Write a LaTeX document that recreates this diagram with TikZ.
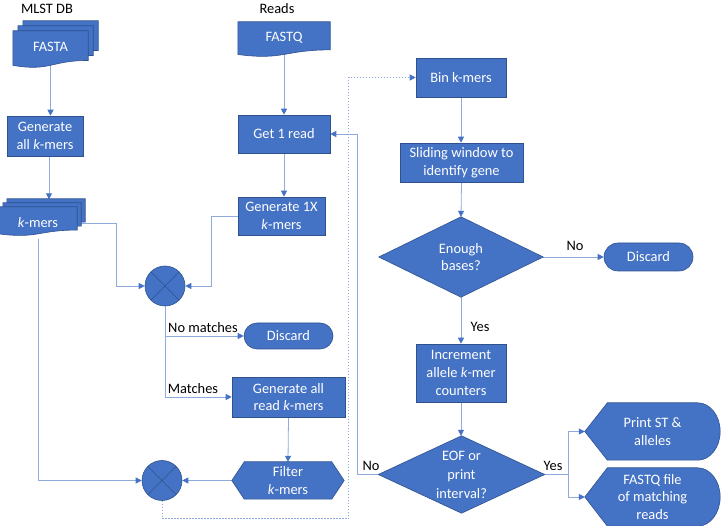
\documentclass[tikz,border=0pt]{standalone}
\usepackage{fontspec}
\setmainfont{Carlito}
\usetikzlibrary{arrows.meta,calc}
\definecolor{blu}{RGB}{68,114,196}
\definecolor{bdr}{RGB}{47,82,143}
\definecolor{lnc}{RGB}{143,170,220}
\definecolor{tipc}{RGB}{68,114,196}
\pgfdeclarelayer{conn}
\pgfdeclarelayer{shp}
\pgfsetlayers{conn,shp,main}
\newcommand\nf{\fontsize{14.4}{17.5}\selectfont}
% document shape: node name, xshift, yshift (canvas pt), height
\newcommand\docshape[4]{\filldraw[shpstyle] let \p1=([shift={(#2pt,#3pt)}]#1.north west), \p2=([shift={(#2pt,#3pt)}]#1.north east), \n1={\x2-\x1} in
 (\x1,\y1) -- (\x2,\y1) -- (\x2,{\y1-0.802*#4pt}) .. controls ({\x1+0.5*\n1},{\y1-0.802*#4pt}) and ({\x1+0.5*\n1},{\y1-1.1075*#4pt}) .. (\x1,{\y1-0.934*#4pt}) -- cycle;}
% display shape
\newcommand\dispshape[1]{\filldraw[shpstyle] let \p1=(#1.north west), \p2=(#1.south east), \n1={(\x2-\x1)/6}, \n2={(\y1-\y2)/2} in
 (#1.west) -- ({\x1+\n1},\y1) -- ({\x2-\n1},\y1) arc[start angle=90, end angle=-90, x radius=\n1, y radius=\n2] -- ({\x1+\n1},\y2) -- cycle;}
\begin{document}
\begin{tikzpicture}[x=1pt,y=-1pt,
  box/.style={draw=bdr, fill=blu, text=white, font=\nf, align=center, inner sep=1pt, line width=0.6pt},
  inv/.style={text=white, font=\nf, align=center, inner sep=0pt},
  shpstyle/.style={draw=bdr, fill=blu, line width=0.6pt},
  xcirc/.style={circle, draw=bdr, fill=blu, line width=0.6pt, minimum size=40pt, inner sep=0pt,
    path picture={\draw[bdr, line width=0.6pt] (path picture bounding box.north west) -- (path picture bounding box.south east) (path picture bounding box.north east) -- (path picture bounding box.south west);}},
  conn/.style={draw=lnc, line width=0.8pt, -{Triangle[length=6pt,width=6pt,color=tipc]}},
  dotconn/.style={draw=lnc, line width=0.8pt, dash pattern=on 1.5pt off 1.5pt, -{Triangle[length=6pt,width=6pt,color=tipc]}},
  lbl/.style={font=\nf, text=black, inner sep=0pt}]
\useasboundingbox (0,0) rectangle (721,526);

% titles
\node[lbl] (mlst) at (47,9) {MLST DB};
\node[lbl] (reads) at (277,9) {Reads};

% left column
\node[inv, minimum width=75pt, minimum height=32pt] (fasta) at (50.5,47) {FASTA};
\begin{pgfonlayer}{shp}
\docshape{fasta}{10}{10}{37}
\docshape{fasta}{5}{5}{37}
\docshape{fasta}{0}{0}{37}
\end{pgfonlayer}
\node[box, minimum width=76pt, minimum height=40pt] (gen1) at (45,136) {Generate\\all \textit{k}-mers};
\node[inv, minimum width=78pt, minimum height=32pt] (kmers) at (38,223) {\textit{k}-mers};
\begin{pgfonlayer}{shp}
\docshape{kmers}{8}{8}{29}
\docshape{kmers}{4}{4}{29}
\docshape{kmers}{0}{0}{29}
\end{pgfonlayer}

% middle column
\node[inv, minimum width=92pt, minimum height=32pt] (fastq) at (284,38) {FASTQ};
\begin{pgfonlayer}{shp}
\docshape{fastq}{0}{0}{35}
\end{pgfonlayer}
\node[box, minimum width=92pt, minimum height=38pt] (getread) at (284,134) {Get 1 read};
\node[box, minimum width=87pt, minimum height=38pt] (gen1x) at (281.5,216) {Generate 1X\\\textit{k}-mers};
\node[xcirc] (circ1) at (165,286) {};
\node[box, rounded corners=13pt, minimum width=89pt, minimum height=26pt] (discard1) at (288.5,336) {Discard};
\node[box, minimum width=113pt, minimum height=40pt] (genread) at (288.5,397) {Generate all\\read \textit{k}-mers};
\node[inv, minimum width=112pt, minimum height=37pt] (filter) at (288,480.5) {Filter\\\textit{k}-mers};
\begin{pgfonlayer}{shp}
\filldraw[shpstyle] ([xshift=12.5pt]filter.north west) -- ([xshift=-12.5pt]filter.north east) -- (filter.east) -- ([xshift=-12.5pt]filter.south east) -- ([xshift=12.5pt]filter.south west) -- (filter.west) -- cycle;
\end{pgfonlayer}
\node[xcirc] (circ2) at (162,480.5) {};

% right column
\node[box, minimum width=90pt, minimum height=39pt] (bin) at (461,77.5) {Bin k-mers};
\node[box, minimum width=123pt, minimum height=39pt] (slide) at (461.5,162.5) {Sliding window to\\identify gene};
\node[inv, minimum width=164pt, minimum height=80pt] (enough) at (461,257) {Enough\\bases?};
\node[box, rounded corners=14pt, minimum width=89pt, minimum height=28pt] (discard2) at (648.5,257) {Discard};
\node[box, minimum width=90pt, minimum height=58pt, font=\fontsize{14.4}{18}\selectfont] (incr) at (461,373) {Increment\\allele \textit{k}-mer\\counters};
\node[inv, minimum width=166pt, minimum height=77pt, font=\fontsize{14.4}{19}\selectfont] (eof) at (461.5,474.5) {EOF or\\print\\interval?};
\node[inv, minimum width=135pt, minimum height=57pt] (print) at (652.5,431.5) {Print ST \&\\alleles};
\node[inv, minimum width=135pt, minimum height=58pt] (fqfile) at (652.5,497) {FASTQ file\\of matching\\reads};
\begin{pgfonlayer}{shp}
\filldraw[shpstyle] (enough.north) -- (enough.east) -- (enough.south) -- (enough.west) -- cycle;
\filldraw[shpstyle] (eof.north) -- (eof.east) -- (eof.south) -- (eof.west) -- cycle;
\dispshape{print}
\dispshape{fqfile}
\end{pgfonlayer}

% labels
\node[lbl] (nomatch) at (203,328) {No matches};
\node[lbl] (matches) at (193,389) {Matches};
\node[lbl] (no1) at (575,246) {No};
\node[lbl] (yes1) at (480,327) {Yes};
\node[lbl] (yes2) at (553,466) {Yes};
\node[lbl] (no2) at (371,466) {No};

% connectors
\begin{pgfonlayer}{conn}
\draw[conn] (fasta.south) -- (fasta.south |- gen1.north);
\draw[conn] ([xshift=4pt]gen1.south) -- ++(0,43);
\draw[conn] (kmers.east) -- ++(39,0) |- (circ1.west);
\draw[conn] (kmers.south) |- (circ2.west);
\draw[conn] (fastq.south) -- (getread.north);
\draw[conn] (getread.south) -- (getread.south |- gen1x.north);
\draw[conn] (gen1x.west) -- ++(-26,0) |- (circ1.east);
\draw[conn] (circ1.south) |- (discard1.west);
\draw[conn] (circ1.south) |- (genread.west);
\draw[conn] (genread.south) -- (filter.north);
\draw[conn] (filter.west) -- (circ2.east);
\draw[dotconn] (circ2.south) -- ++(0,18) -| ([xshift=-67pt]bin.west) -- (bin.west);
\draw[conn] (bin.south) -- (bin.south |- slide.north);
\draw[conn] (slide.south) -- (enough.north);
\draw[conn] (enough.south) -- (enough.south |- incr.north);
\draw[conn] (enough.east) -- (discard2.west);
\draw[conn] (incr.south) -- (incr.south |- eof.north);
\draw[conn] (eof.west) -- ++(-21,0) |- (getread.east);
\draw[conn] (eof.east) -- ++(24,0) |- (print.west);
\draw[conn] (eof.east) -- ++(24,0) |- (fqfile.west);
\end{pgfonlayer}
\end{tikzpicture}
\end{document}
